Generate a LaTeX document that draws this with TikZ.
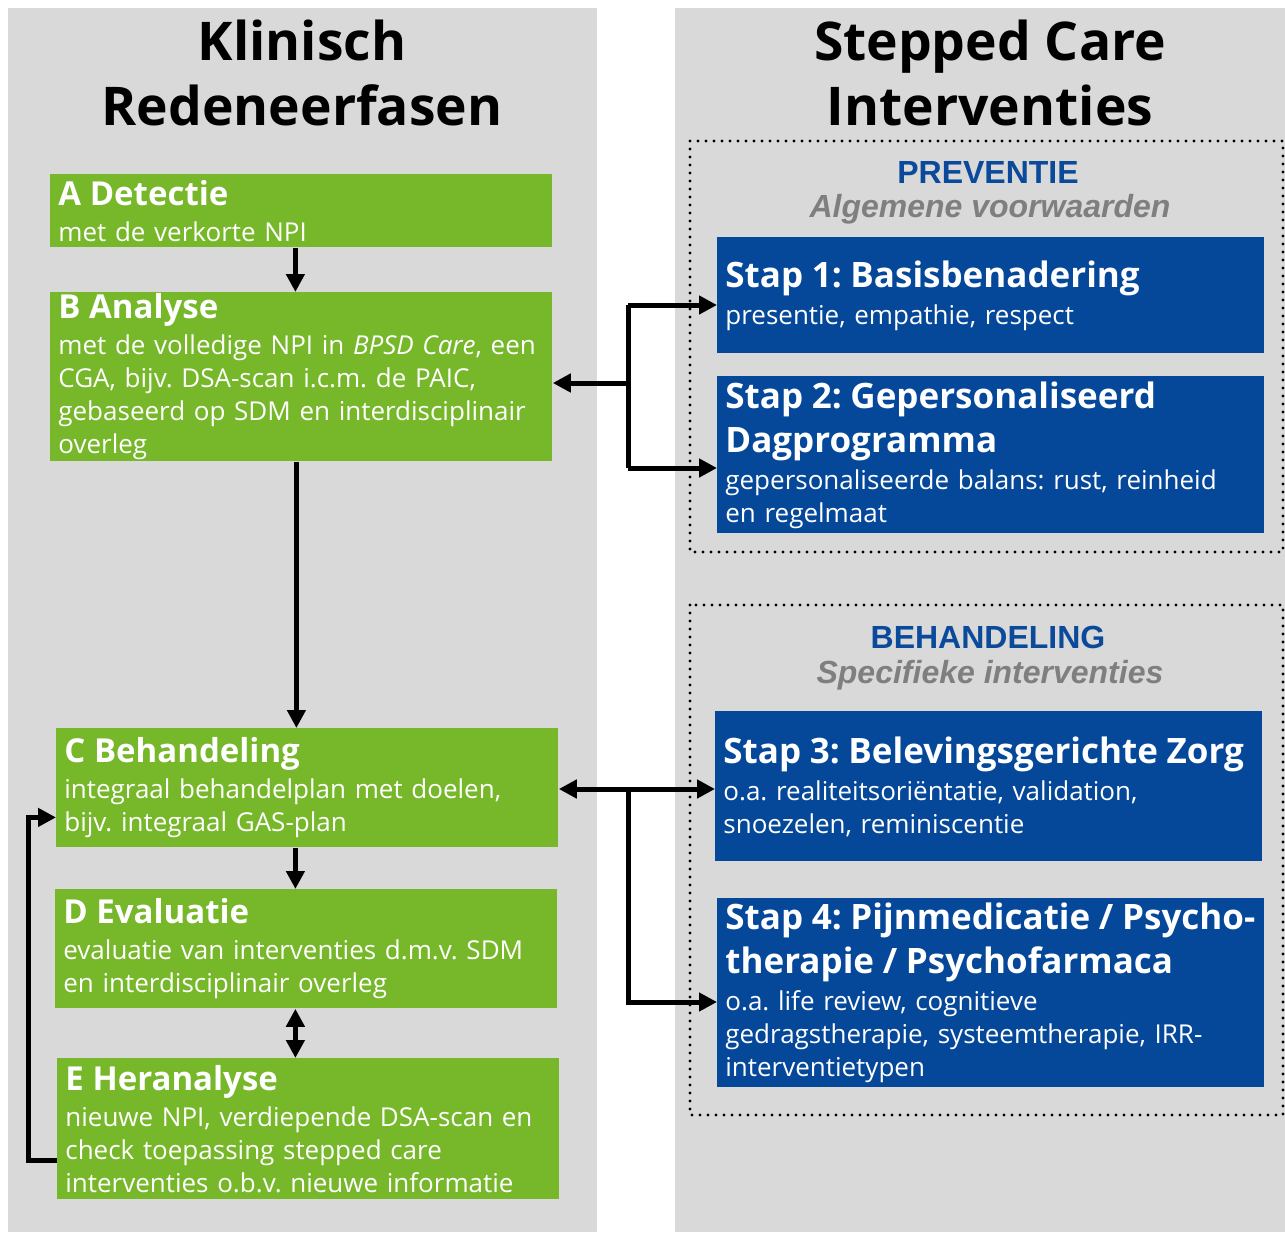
\documentclass[tikz,border=0pt]{standalone}
\usepackage{fontspec}
\setmainfont{Open Sans}
\newfontfamily\arialfont{Liberation Sans}
\frenchspacing
\usetikzlibrary{arrows.meta, calc}

\definecolor{fasegroen}{HTML}{77B72A}
\definecolor{stapblauw}{HTML}{05489A}
\definecolor{kopblauw}{HTML}{0B4A9A}
\definecolor{paneelgrijs}{HTML}{D9D9D9}
\definecolor{subgrijs}{HTML}{7F7F7F}

\newcommand{\fasekop}{\fontsize{16.5}{20}\selectfont\bfseries}
\newcommand{\stapkop}{\fontsize{17.5}{22}\selectfont\bfseries}
\newcommand{\romp}{\fontsize{13}{16.5}\selectfont}

\tikzset{
    fase/.style = {anchor = north west, fill = fasegroen, text = white, align = left,
        inner xsep = 4pt, inner ysep = 0pt, minimum width = 251pt, text width = 243pt, font = \romp},
    stapbox/.style = {anchor = north west, fill = stapblauw, text = white, align = left,
        inner xsep = 4pt, inner ysep = 0pt, minimum width = 273.5pt, text width = 265.5pt, font = \romp},
    groep/.style = {line width = 1.7pt, dash pattern = on 0pt off 4pt, line cap = round},
    lijn/.style = {line width = 2.5pt},
    pijl/.style = {line width = 2.5pt, -{Triangle[length = 9pt, width = 9pt]}},
    dubbelpijl/.style = {line width = 2.5pt, {Triangle[length = 9pt, width = 9pt]}-{Triangle[length = 9pt, width = 9pt]}}
}

\begin{document}
\begin{tikzpicture}[x = 0.5pt, y = -0.5pt]
    \useasboundingbox (0,0) rectangle (1285,1232);

    \fill [paneelgrijs] (8,8) rectangle (597,1232);
    \fill [paneelgrijs] (675,8) rectangle (1285,1232);

    \node (kopL) [align = center, font = \fontsize{26.7}{32.5}\selectfont\bfseries] at (302,73) {Klinisch\\Redeneerfasen};
    \node (kopR) [align = center, font = \fontsize{26.7}{32.5}\selectfont\bfseries] at (990,73) {Stepped Care\\Interventies};

    \draw [groep] (690,141) rectangle (1283,552);
    \draw [groep] (690,605) rectangle (1283,1115);

    \node (preventie) [text = kopblauw, font = \arialfont\fontsize{16}{19}\selectfont\bfseries] at (988,172) {PREVENTIE};
    \node (voorwaarden) [text = subgrijs, font = \arialfont\fontsize{16}{19}\selectfont\bfseries\itshape] at (990,209) {Algemene voorwaarden};
    \node (behandeling) [text = kopblauw, font = \arialfont\fontsize{16}{19}\selectfont\bfseries] at (988,637) {BEHANDELING};
    \node (specifiek) [text = subgrijs, font = \arialfont\fontsize{16}{19}\selectfont\bfseries\itshape] at (990,675) {Specifieke interventies};

    \node (A) [fase, minimum height = 36.5pt] at (50,174) {{\fasekop A Detectie\par}\vspace{1.5pt}met de verkorte NPI};
    \node (B) [fase, minimum height = 84.5pt] at (50,292) {{\fasekop B Analyse\par}\vspace{1.5pt}met de volledige NPI in \textit{BPSD Care}, een\\CGA, bijv. DSA-scan i.c.m. de PAIC,\\gebaseerd op SDM en interdisciplinair\\overleg};
    \node (C) [fase, minimum height = 59.5pt] at (56,728) {{\fasekop C Behandeling\par}\vspace{1.5pt}integraal behandelplan met doelen,\\bijv. integraal GAS-plan};
    \node (D) [fase, minimum height = 59.5pt] at (55,889) {{\fasekop D Evaluatie\par}\vspace{1.5pt}evaluatie van interventies d.m.v. SDM\\en interdisciplinair overleg};
    \node (E) [fase, minimum height = 70.5pt] at (57,1058) {{\fasekop E Heranalyse\par}\vspace{1.5pt}nieuwe NPI, verdiepende DSA-scan en\\check toepassing stepped care\\interventies o.b.v. nieuwe informatie};

    \node (stap1) [stapbox, minimum height = 58pt] at (717,237) {{\stapkop Stap 1: Basisbenadering\par}\vspace{2pt}presentie, empathie, respect};
    \node (stap2) [stapbox, minimum height = 78.5pt] at (717,376) {{\stapkop Stap 2: Gepersonaliseerd\\Dagprogramma\par}\vspace{2pt}gepersonaliseerde balans: rust, reinheid\\en regelmaat};
    \node (stap3) [stapbox, minimum height = 75pt] at (715,711) {{\stapkop \mbox{Stap 3: Belevingsgerichte Zorg}\par}\vspace{2pt}o.a. realiteitsori\"entatie, validation,\\snoezelen, reminiscentie};
    \node (stap4) [stapbox, minimum height = 94.5pt] at (717,898) {{\stapkop \mbox{Stap 4: Pijnmedicatie / Psycho-}\\therapie / Psychofarmaca\par}\vspace{2pt}o.a. life review, cognitieve\\gedragstherapie, systeemtherapie, IRR-\\interventietypen};

    \draw [pijl] ([xshift = -3pt]A.south) -- ([xshift = -3pt]B.north);
    \draw [pijl] ([xshift = -2.5pt]B.south) -- ([xshift = -2.5pt]B.south |- C.north);
    \draw [pijl] ([xshift = -6pt]C.south) -- ([xshift = -6pt]C.south |- D.north);
    \draw [dubbelpijl] ([xshift = -5.5pt]D.south) -- ([xshift = -5.5pt]D.south |- E.north);
    \draw [pijl] ([yshift = -16pt]E.west) -- ++(-14.5pt,0) |- ([yshift = -14.75pt]C.west);

    \coordinate (takB) at (628,383);
    \coordinate (bovenB) at (628,305);
    \coordinate (onderB) at (628,468);
    \draw [lijn] (bovenB) -- (onderB);
    \draw [pijl] (takB) -- (takB -| B.east);
    \draw [pijl] (bovenB) -- (bovenB -| stap1.west);
    \draw [pijl] (onderB) -- (onderB -| stap2.west);

    \coordinate (takC) at (628,789);
    \coordinate (onderC) at (628,1002);
    \draw [pijl] (takC) -- (takC -| C.east);
    \draw [pijl] (takC) -- (takC -| stap3.west);
    \draw [pijl] (takC) -- (onderC) -- (onderC -| stap4.west);
\end{tikzpicture}
\end{document}
